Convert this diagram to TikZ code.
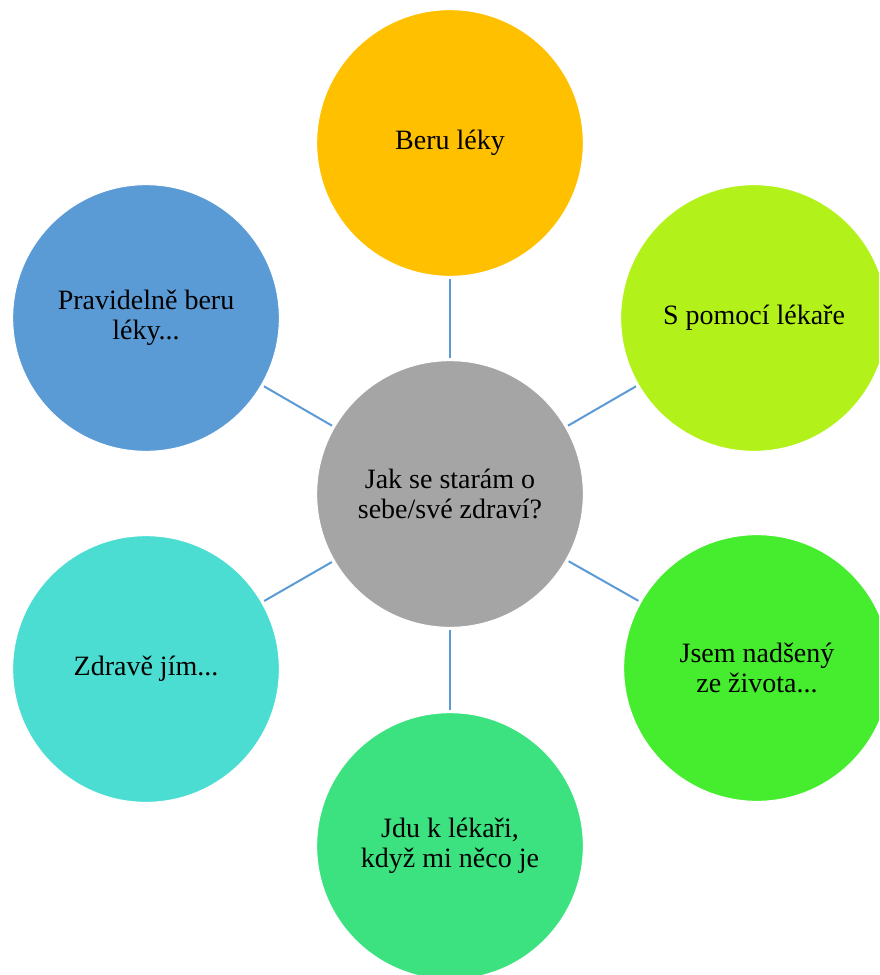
\documentclass[tikz,border=0pt]{standalone}
\usepackage{fontspec}
\setmainfont{Liberation Serif}
\usepackage{tikz}
\usetikzlibrary{positioning}
\definecolor{figgold}{HTML}{FFC000}
\definecolor{figlime}{HTML}{B2F21A}
\definecolor{figgreen}{HTML}{46EC2E}
\definecolor{figmint}{HTML}{3CE280}
\definecolor{figteal}{HTML}{4BDDD2}
\definecolor{figblue}{HTML}{5B9BD5}
\definecolor{figgray}{HTML}{A5A5A5}
\tikzset{
  figcircle/.style={circle, draw=white, line width=0.75pt, minimum size=200pt,
    inner sep=0pt, outer sep=0pt, align=center, text=black,
    font=\fontsize{21}{22.5}\selectfont},
  sgold/.style={fill=figgold},
  slime/.style={fill=figlime},
  sgreen/.style={fill=figgreen},
  smint/.style={fill=figmint},
  steal/.style={fill=figteal},
  sblue/.style={fill=figblue},
  sgray/.style={fill=figgray},
  figline/.style={draw=figblue, line width=1.5pt, shorten <=2.25pt, shorten >=2.25pt},
}

\begin{document}
\begin{tikzpicture}[x=0.75pt, y=-0.75pt]
  \useasboundingbox (0,0) rectangle (879,975);
  \clip (0,0) rectangle (879,975);
  % Mitte
  \node[figcircle, sgray] (hub) at (450,494) {Jak se starám o\\sebe/své zdraví?};
  % Kreise rundherum
  \node[figcircle, sgold] (meds) at (450,143) {Beru léky};
  \node[figcircle, slime] (doctor) at (754,318) {S pomocí lékaře};
  \node[figcircle, sgreen] (life) at (757,668) {Jsem nadšený\\ze života...};
  \node[figcircle, smint] (visit) at (450,846) {Jdu k lékaři,\\když mi něco je};
  \node[figcircle, steal] (food) at (146,669) {Zdravě jím...};
  \node[figcircle, sblue] (regular) at (146,318) {Pravidelně beru\\léky...};
  \draw[figline] (hub) -- (meds);
  \draw[figline] (hub) -- (doctor);
  \draw[figline] (hub) -- (life);
  \draw[figline] (hub) -- (visit);
  \draw[figline] (hub) -- (food);
  \draw[figline] (hub) -- (regular);
\end{tikzpicture}
\end{document}
